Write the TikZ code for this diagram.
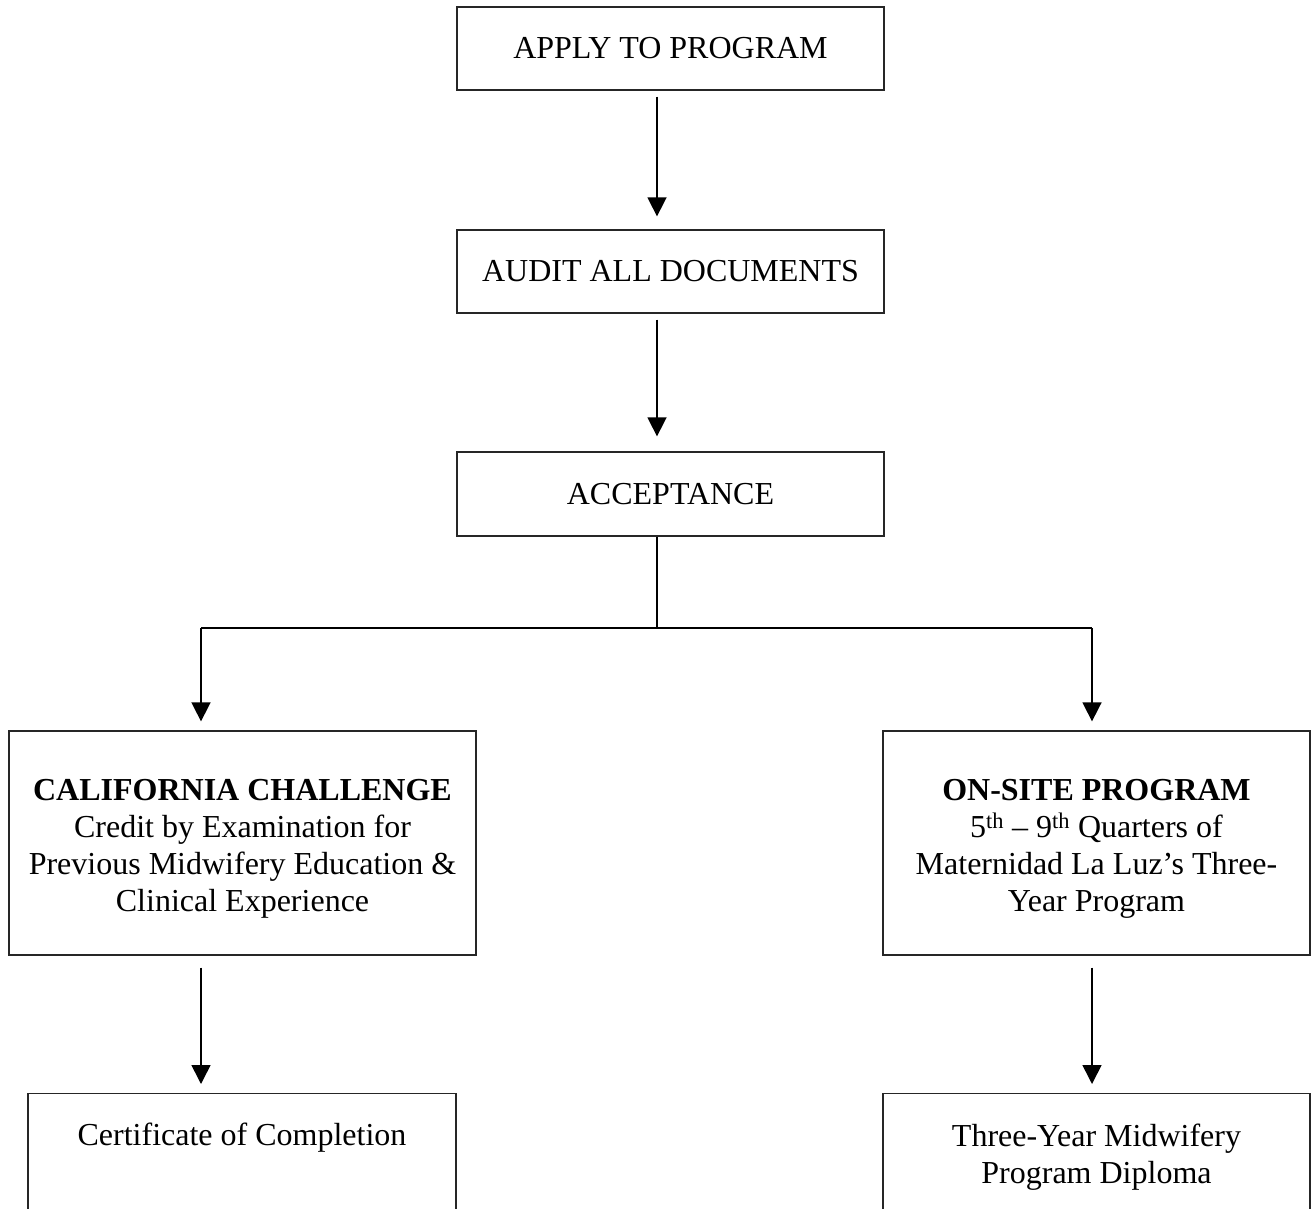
\documentclass[tikz,border=0pt]{standalone}
\usepackage{fontspec}
\setmainfont{Liberation Serif}
\usetikzlibrary{arrows.meta}
\begin{document}
\begin{tikzpicture}[x=1pt,y=-1pt,
  box/.style={draw=black!85, line width=1.3pt, rectangle, inner sep=0pt, align=center},
  txt/.style={align=center, inner sep=0pt, font=\fontsize{32}{37}\selectfont},
  arr/.style={line width=1.6pt, -{Triangle[width=19pt,length=19pt]}},
]
\useasboundingbox (0,0) rectangle (1312,1209);
\clip (0,0) rectangle (1312,1209);
% top three boxes
\node[box, txt, minimum width=427pt, minimum height=83pt] (apply) at (670.5,48.5) {APPLY TO PROGRAM};
\node[box, txt, minimum width=427pt, minimum height=83pt] (audit) at (670.5,271.5) {AUDIT ALL DOCUMENTS};
\node[box, txt, minimum width=427pt, minimum height=84pt] (accept) at (670.5,494) {ACCEPTANCE};
% middle boxes
\node[box, minimum width=467pt, minimum height=224pt] (cal) at (242.5,843) {};
\node[txt] (caltext) at (242.5,849)
  {\textbf{CALIFORNIA CHALLENGE}\\Credit by Examination for\\Previous Midwifery Education \&\\Clinical Experience};
\node[box, minimum width=427pt, minimum height=224pt] (onsite) at (1096.5,843) {};
\node[txt] (onsitetext) at (1096.5,849)
  {\textbf{ON-SITE PROGRAM}\\5\textsuperscript{th} – 9\textsuperscript{th} Quarters of\\Maternidad La Luz’s Three-\\Year Program};
% bottom boxes (cut off by the page edge)
\node[box, minimum width=428pt, minimum height=200pt, anchor=north] (certbox) at (242,1093) {};
\node[txt] (cert) at (242,1138) {Certificate of Completion};
\node[box, minimum width=427pt, minimum height=200pt, anchor=north] (diplbox) at (1096.5,1093) {};
\node[txt] (dipl) at (1096.5,1157) {Three-Year Midwifery\\Program Diploma};
% connectors
\coordinate (c) at (657,0);
\coordinate (jl) at (201,628);
\coordinate (jm) at (657,628);
\coordinate (jr) at (1092,628);
\draw[arr, shorten <=6pt, shorten >=13pt] (apply.south -| c) -- (audit.north -| c);
\draw[arr, shorten <=6pt, shorten >=15pt] (audit.south -| c) -- (accept.north -| c);
\draw[line width=1.6pt] (accept.south -| c) -- (jm);
\draw[line width=2.4pt] (jl) -- (jr);
\draw[arr, shorten >=9pt] (jl) -- (cal.north -| jl);
\draw[arr, shorten >=9pt] (jr) -- (onsite.north -| jr);
\draw[arr, shorten <=12pt, shorten >=9pt] (cal.south -| jl) -- (certbox.north -| jl);
\draw[arr, shorten <=12pt, shorten >=9pt] (onsite.south -| jr) -- (diplbox.north -| jr);
\end{tikzpicture}
\end{document}
